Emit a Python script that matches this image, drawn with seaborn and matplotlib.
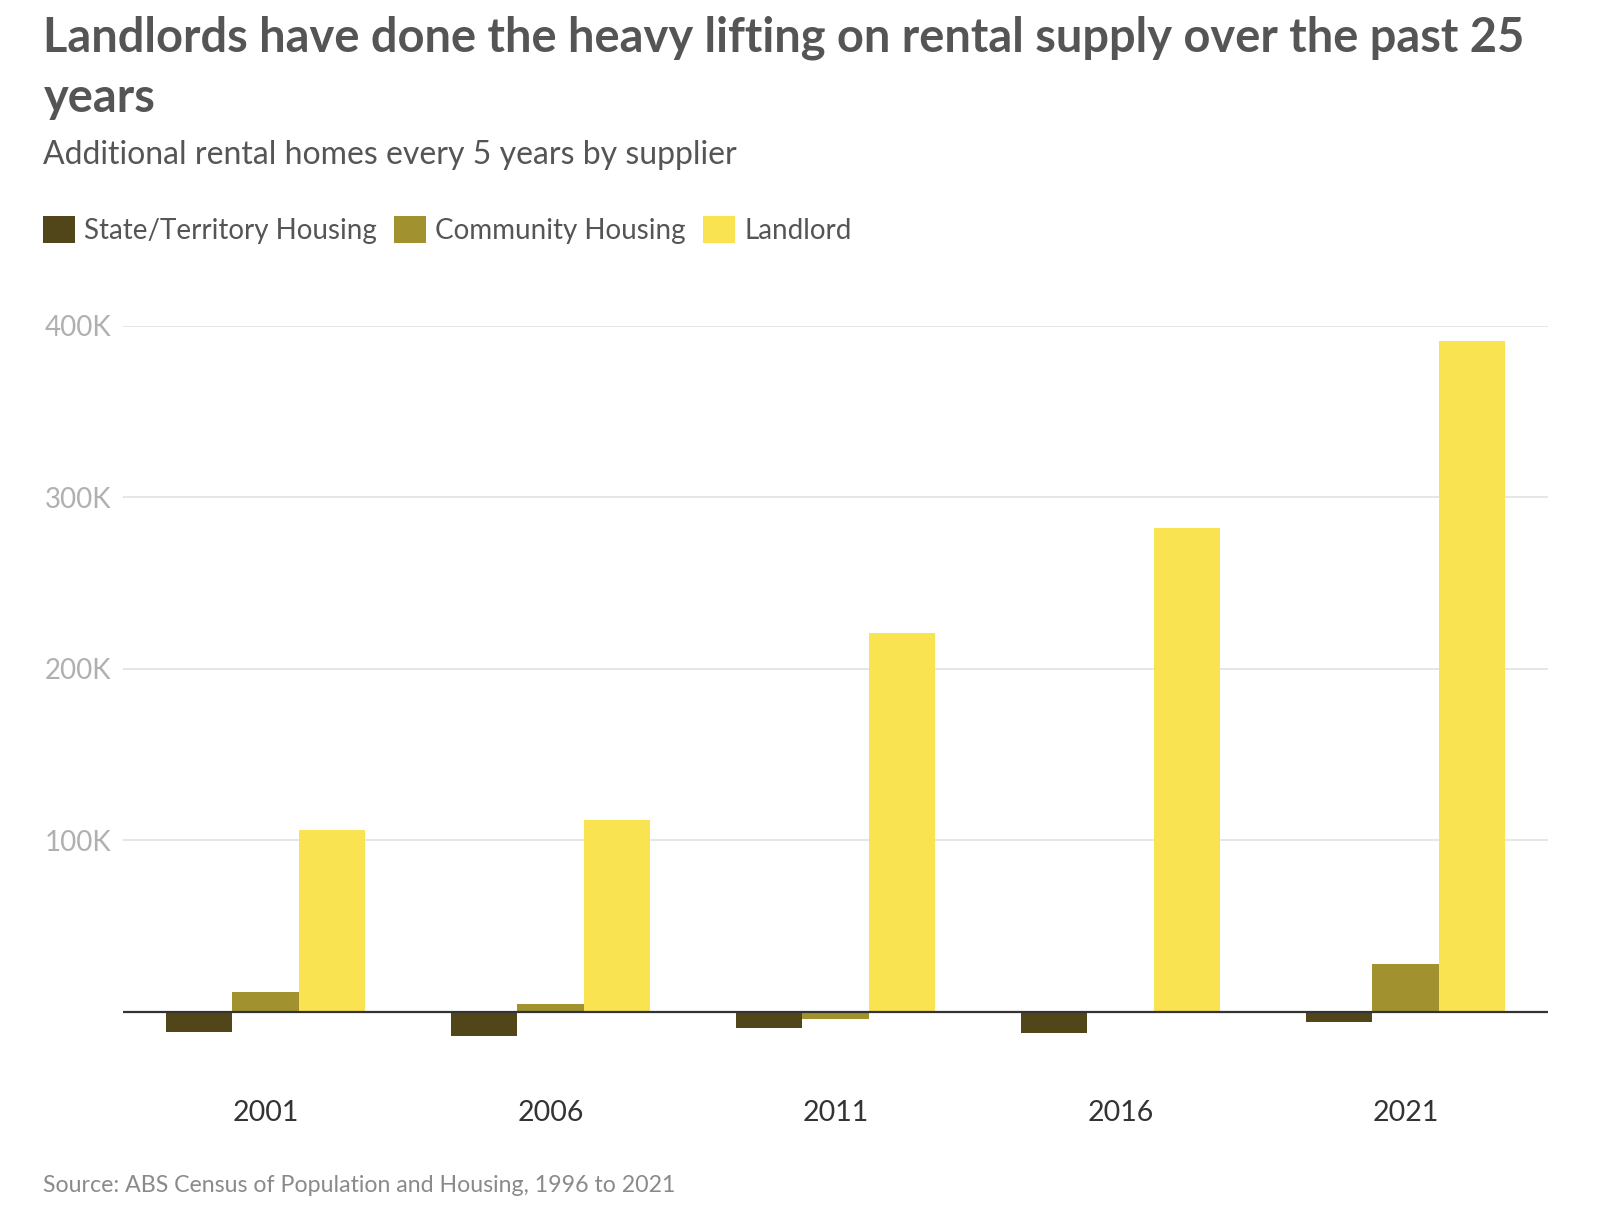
import pandas as pd
import matplotlib.pyplot as plt
import seaborn as sns
from matplotlib.patches import Patch

# values in thousands of additional rental homes
years = ["2001", "2006", "2011", "2016", "2021"]
state_housing = [-11.5, -14.2, -9.2, -12.3, -5.8]
community_housing = [11.7, 4.7, -4.1, 0.0, 28.0]
landlord = [106, 112, 221, 282, 391]

suppliers = ["State/Territory Housing", "Community Housing", "Landlord"]
colors = ["#51461a", "#a2922f", "#f9e351"]

rows = []
for name, vals in zip(suppliers, [state_housing, community_housing, landlord]):
    for yr, v in zip(years, vals):
        rows.append({"year": yr, "supplier": name, "homes": v * 1000})
df = pd.DataFrame(rows)

sns.set_theme(style="white")
plt.rcParams["font.family"] = ["Lato", "DejaVu Sans"]

fig = plt.figure(figsize=(16.06, 12.22), dpi=100)
ax = fig.add_axes([0.0765, 0.1157, 0.8875, 0.6177])

sns.barplot(data=df, x="year", y="homes", hue="supplier", hue_order=suppliers,
            palette=colors, width=0.7, saturation=1, linewidth=0, ax=ax)

ax.set_xlim(-0.5, 4.5)
ax.set_ylim(-40000, 400000)
ax.set_yticks([100000, 200000, 300000, 400000])
ax.set_yticklabels(["100K", "200K", "300K", "400K"])
ax.yaxis.grid(True, color="#e4e4e4", linewidth=1.3)
ax.set_axisbelow(True)
ax.axhline(0, color="#333333", linewidth=1.6, zorder=5)
for s in ax.spines.values():
    s.set_visible(False)
ax.tick_params(axis="y", length=0, pad=8.5, labelsize=20, labelcolor="#b0b0b0")
ax.tick_params(axis="x", length=0, pad=14, labelsize=20.5, labelcolor="#333333")
ax.set_xlabel("")
ax.set_ylabel("")
ax.legend_.remove()

handles = [Patch(facecolor=c, edgecolor="none", label=s) for s, c in zip(suppliers, colors)]
fig.legend(handles=handles, loc="center left", bbox_to_anchor=(0.011, 0.812), ncol=3,
           frameon=False, fontsize=20, handlelength=1.15, handleheight=1.15,
           handletextpad=0.35, columnspacing=0.6, labelcolor="#555555")

fig.text(0.027, 0.987, "Landlords have done the heavy lifting on rental supply over the past 25\nyears",
         fontsize=33.8, fontweight="bold", color="#555555", va="top", ha="left", linespacing=1.42)
fig.text(0.027, 0.8734, "Additional rental homes every 5 years by supplier",
         fontsize=23, color="#555555", va="center", ha="left")
fig.text(0.027, 0.030, "Source: ABS Census of Population and Housing, 1996 to 2021",
         fontsize=16.7, color="#8a8a8a", va="center", ha="left")

fig.savefig("out.png", dpi=100, facecolor="white")
